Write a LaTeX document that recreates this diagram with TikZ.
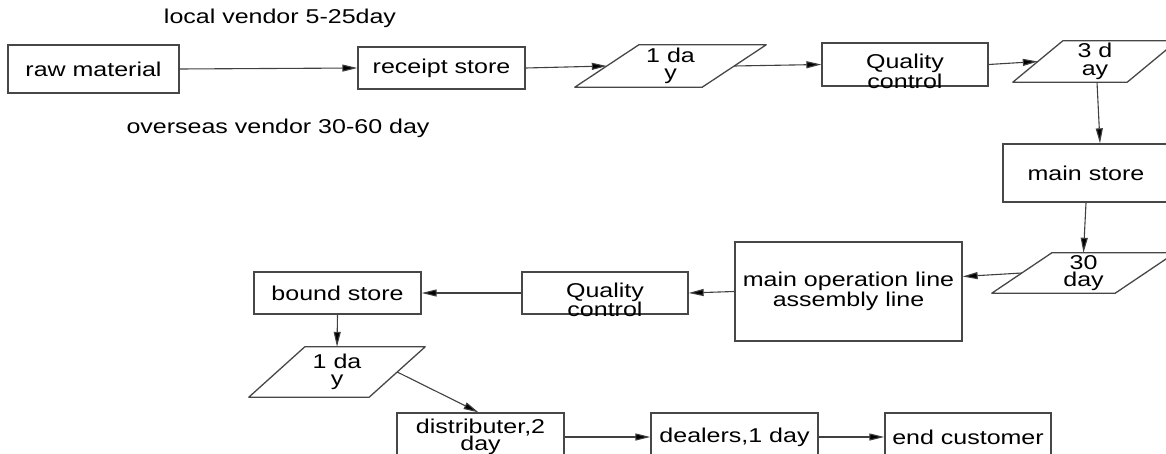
\documentclass[tikz,border=0pt]{standalone}
\usepackage{fontspec}
\setmainfont{Liberation Sans}[FakeStretch=1.25]
\usetikzlibrary{calc,arrows.meta}

\begin{document}
\begin{tikzpicture}[x=1pt,y=-1pt,
  every node/.style={font=\fontsize{20}{17.5}\selectfont, inner sep=0pt, align=center},
  box/.style={draw=black!72, line width=1.3pt, rectangle},
  outline/.style={draw=black!72, line width=1.3pt, line join=round},
  flow/.style={draw=black!75, line width=1.1pt, -{Triangle[length=15pt,width=7pt,fill=black]}},
]
\useasboundingbox (0,0) rectangle (1166,454);
\clip (0,0) rectangle (1166,454);

% supplier notes
\node (local) at (280,18) {local vendor 5-25day};
\node (overseas) at (278,128) {overseas vendor 30-60 day};

% rectangular steps
\node[box, minimum width=171, minimum height=48] (raw) at (93.5,69) {raw material};
\node[box, minimum width=167, minimum height=42] (receipt) at (441.5,68) {receipt store};
\node[box, minimum width=166, minimum height=43,
      label={[yshift=-7pt]center:{Quality\\control}}] (qc1) at (905,64.5) {};
\node[box, minimum width=166, minimum height=58] (ms) at (1086,173) {main store};
\node[box, minimum width=227, minimum height=99] (mo) at (848.5,291.5) {main operation line\\assembly line};
\node[box, minimum width=166, minimum height=42,
      label={[yshift=-7pt]center:{Quality\\control}}] (qc2) at (605,293) {};
\node[box, minimum width=167, minimum height=42] (bound) at (337.5,293) {bound store};
\node[box, minimum width=167, minimum height=48] (dist) at (480.5,437) {distributer,2\\day};
\node[box, minimum width=167, minimum height=48] (dealers) at (734.5,437) {dealers,1 day};
\node[box, minimum width=166, minimum height=48] (endc) at (968,437) {end customer};

% waiting-time steps (parallelograms)
\node[minimum width=191, minimum height=42] (p1) at (670.5,66) {1 da\\y};
\node[minimum width=164, minimum height=41] (p2) at (1095,61.5) {3 d\\ay};
\node[minimum width=183, minimum height=40] (p3) at (1083.5,273) {30\\day};
\node[minimum width=176, minimum height=50] (p4) at (337,372) {1 da\\y};

\draw[outline] (p1.south west) -- ($(p1.north west)+(64,0)$) -- (p1.north east) -- ($(p1.south east)+(-64,0)$) -- cycle;
\draw[outline] (p2.south west) -- ($(p2.north west)+(50,0)$) -- (p2.north east) -- ($(p2.south east)+(-50,0)$) -- cycle;
\draw[outline] (p3.south west) -- ($(p3.north west)+(60,0)$) -- (p3.north east) -- ($(p3.south east)+(-60,0)$) -- cycle;
\draw[outline] (p4.south west) -- ($(p4.north west)+(56,0)$) -- (p4.north east) -- ($(p4.south east)+(-56,0)$) -- cycle;

% flow connectors
\draw[flow] (raw.east) -- (receipt.west);
\draw[flow] (receipt.east) -- ($(p1.west)+(32,0)$);
\draw[flow] ($(p1.east)+(-32,0)$) -- (qc1.west);
\draw[flow] (qc1.east) -- ($(p2.west)+(25,0)$);
\draw[flow] ($(p2.south)+(2,0)$) -- ($(ms.north)+(14,0)$);
\draw[flow] (ms.south) -- (p3.north);
\draw[flow] ($(p3.west)+(30,0)$) -- ($(mo.east)+(0,-15)$);
\draw[flow] (mo.west) -- (qc2.east);
\draw[flow] (qc2.west) -- (bound.east);
\draw[flow] (bound.south) -- (p4.north);
\draw[flow] ($(p4.east)+(-28,0)$) -- ($(dist.north)+(-2,0)$);
\draw[flow] (dist.east) -- (dealers.west);
\draw[flow] (dealers.east) -- (endc.west);
\end{tikzpicture}
\end{document}
